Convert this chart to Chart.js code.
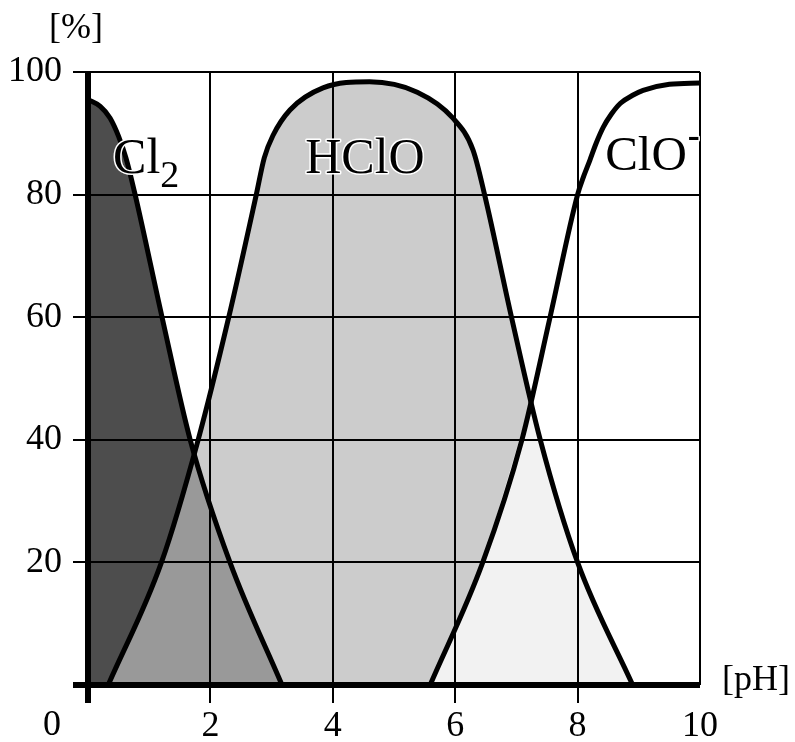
<!DOCTYPE html>
<html>
<head>
<meta charset="utf-8">
<script src="https://cdn.jsdelivr.net/npm/chart.js@4.4.1/dist/chart.umd.min.js"></script>
<style>
  html, body { margin: 0; padding: 0; background: #fff; }
  #wrap { width: 795px; height: 742px; }
</style>
</head>
<body>
<div id="wrap"><canvas id="chart"></canvas></div>
<script>
// ── Values ────────────────────────────────────────────────────────────
const xTicks = [0, 2, 4, 6, 8, 10];      // pH
const yTicks = [0, 20, 40, 60, 80, 100]; // %

const cl2PH  = [0, 0.2, 0.36, 0.5, 0.62, 0.77, 1.21, 1.67, 2.32, 3.17];
const cl2Pct = [95.5, 94.4, 92.5, 89.5, 86, 80, 60, 40, 20, 0];

const hcloPH  = [0.33, 1.2, 1.8, 2.3, 2.75, 2.88, 3.02, 3.3, 3.84, 4.6, 5.38, 5.96, 6.29, 6.48, 6.92, 7.39, 8.0, 8.9];
const hcloPct = [0, 20, 40, 60, 80, 86, 89.6, 93.8, 97.4, 98.4, 96.7, 92.5, 87.3, 80, 60, 40, 20, 0];

const cloPH  = [5.59, 6.45, 7.09, 7.55, 8.0, 8.1, 8.2, 8.3, 8.42, 8.55, 8.7, 8.9, 9.07, 9.5, 10];
const cloPct = [0, 20, 40, 60, 80, 83, 85.6, 88.3, 91, 93.1, 94.9, 96.2, 97, 98, 98.2];

// shaded areas where two species overlap
const lowOverlapPH   = [0.33, 1.2, 1.74, 2.32, 3.17];
const lowOverlapPct  = [0, 20, 38, 20, 0];
const highOverlapPH  = [5.59, 6.45, 7.24, 8.0, 8.9];
const highOverlapPct = [0, 20, 46.5, 20, 0];

const toPoints = (xs, ys) => xs.map((x, i) => ({ x, y: ys[i] }));

// ── Species names and axis captions ───────────────────────────────────
const textPlugin = {
  id: 'texts',
  afterDraw(chart) {
    const { ctx, scales: { x, y }, chartArea: a } = chart;
    ctx.save();
    ctx.fillStyle = '#000';
    ctx.textAlign = 'left';
    ctx.textBaseline = 'alphabetic';
    ctx.lineJoin = 'round';

    const halo = (txt, px, py, font) => {
      ctx.font = font;
      ctx.strokeStyle = '#fff';
      ctx.lineWidth = 3;
      ctx.strokeText(txt, px, py);
      ctx.fillText(txt, px, py);
    };
    const plain = (txt, px, py, font, align) => {
      ctx.font = font;
      ctx.textAlign = align || 'left';
      ctx.fillText(txt, px, py);
      ctx.textAlign = 'left';
    };

    const big = '50px "Liberation Serif"';
    halo('Cl', x.getPixelForValue(0.41), y.getPixelForValue(83.5), big);
    halo('2', x.getPixelForValue(1.18), y.getPixelForValue(81.2), '38px "Liberation Serif"');
    halo('HClO', x.getPixelForValue(3.55), y.getPixelForValue(83.5), big);
    halo('ClO', x.getPixelForValue(8.45), y.getPixelForValue(84), '49px "Liberation Serif"');
    halo('-', x.getPixelForValue(9.8), y.getPixelForValue(87.8), 'bold 36px "Liberation Serif"');

    const cap = '36px "Liberation Serif"';
    plain('[%]', a.left - 39, a.top - 34, cap);
    plain('[pH]', a.right + 22, a.bottom + 5, cap);
    plain('0', a.left - 36, a.bottom + 50, cap, 'center');
    ctx.restore();
  }
};

const thick = c => (c.tick && c.tick.value === 0 ? 6 : 2);

new Chart(document.getElementById('chart'), {
  type: 'line',
  data: {
    datasets: [
      {
        data: toPoints(lowOverlapPH, lowOverlapPct),
        borderWidth: 0, borderColor: 'rgba(0,0,0,0)',
        backgroundColor: '#999999', fill: 'origin', tension: 0, order: 0
      },
      {
        data: toPoints(highOverlapPH, highOverlapPct),
        borderWidth: 0, borderColor: 'rgba(0,0,0,0)',
        backgroundColor: '#f2f2f2', fill: 'origin', tension: 0, order: 0
      },
      {
        label: 'HClO',
        data: toPoints(hcloPH, hcloPct),
        borderColor: '#000', borderWidth: 5,
        backgroundColor: '#cccccc', fill: 'origin',
        cubicInterpolationMode: 'monotone', order: 1
      },
      {
        label: 'Cl2',
        data: toPoints(cl2PH, cl2Pct),
        borderColor: '#000', borderWidth: 5,
        backgroundColor: '#4d4d4d', fill: 'origin',
        cubicInterpolationMode: 'monotone', order: 2
      },
      {
        label: 'ClO-',
        data: toPoints(cloPH, cloPct),
        borderColor: '#000', borderWidth: 5,
        fill: false,
        cubicInterpolationMode: 'monotone', order: 3
      }
    ]
  },
  options: {
    responsive: true,
    maintainAspectRatio: false,
    animation: false,
    layout: { padding: { left: 0, right: 95, top: 72, bottom: 0 } },
    elements: { point: { radius: 0, hoverRadius: 0 } },
    plugins: {
      legend: { display: false },
      tooltip: { enabled: false },
      filler: { drawTime: 'beforeDraw' }
    },
    scales: {
      x: {
        type: 'linear',
        min: xTicks[0], max: xTicks[xTicks.length - 1],
        afterBuildTicks: s => { s.ticks = xTicks.map(v => ({ value: v })); },
        afterFit: s => { s.height = 57; },
        border: { display: false },
        grid: {
          color: '#000',
          lineWidth: thick,
          tickWidth: thick,
          tickLength: 18,
          tickColor: c => (c.tick && c.tick.value === 10 ? 'rgba(0,0,0,0)' : '#000')
        },
        ticks: {
          color: '#000',
          padding: 2,
          maxRotation: 0,
          font: { family: '"Liberation Serif"', size: 36 },
          callback: v => (v === 0 ? '' : v)
        }
      },
      y: {
        min: yTicks[0], max: yTicks[yTicks.length - 1],
        afterBuildTicks: s => { s.ticks = yTicks.map(v => ({ value: v })); },
        afterFit: s => { s.width = 88; },
        border: { display: false },
        grid: {
          color: '#000',
          lineWidth: thick,
          tickWidth: thick,
          tickLength: 15
        },
        ticks: {
          color: '#000',
          padding: 11,
          font: { family: '"Liberation Serif"', size: 36 },
          callback: v => (v === 0 ? '' : v)
        }
      }
    }
  },
  plugins: [textPlugin]
});
</script>
</body>
</html>
